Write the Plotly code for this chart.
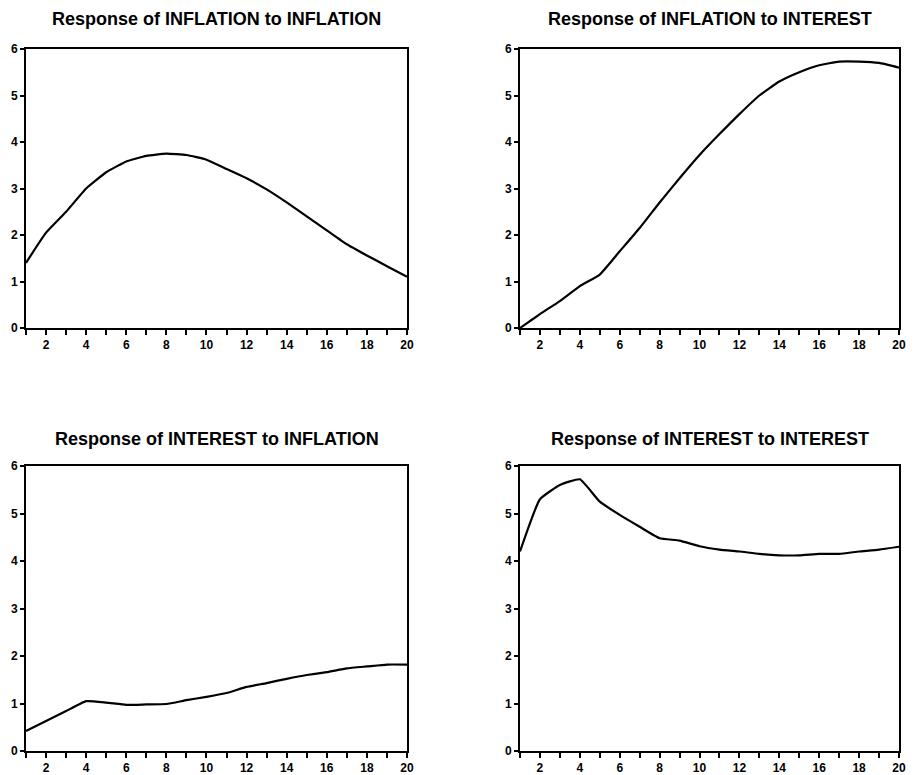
import plotly.graph_objects as go

periods = list(range(1, 21))

inflation_to_inflation = [1.40, 2.05, 2.50, 3.00, 3.35, 3.58, 3.70, 3.75, 3.72, 3.62,
                          3.42, 3.22, 2.98, 2.70, 2.40, 2.10, 1.80, 1.56, 1.33, 1.10]
inflation_to_interest = [0.00, 0.30, 0.58, 0.90, 1.15, 1.65, 2.15, 2.70, 3.22, 3.72,
                         4.17, 4.60, 5.00, 5.30, 5.50, 5.65, 5.73, 5.73, 5.70, 5.60]
interest_to_inflation = [0.42, 0.63, 0.84, 1.05, 1.02, 0.97, 0.98, 0.99, 1.07, 1.14,
                         1.22, 1.35, 1.43, 1.52, 1.60, 1.66, 1.74, 1.78, 1.82, 1.82]
interest_to_interest = [4.20, 5.30, 5.60, 5.72, 5.25, 4.97, 4.72, 4.48, 4.43, 4.31,
                        4.24, 4.20, 4.15, 4.12, 4.12, 4.15, 4.15, 4.20, 4.24, 4.30]

titles = ["Response of INFLATION to INFLATION", "Response of INFLATION to INTEREST",
          "Response of INTEREST to INFLATION", "Response of INTEREST to INTEREST"]
series = [inflation_to_inflation, inflation_to_interest, interest_to_inflation, interest_to_interest]

x_tickvals = periods
x_ticktext = [str(p) if p % 2 == 0 else "" for p in periods]
y_tickvals = [0, 1, 2, 3, 4, 5, 6]

# page body has an 8px margin; figure is placed at (8, 8)
OFF = 8
W, H = 915 - OFF, 775 - OFF


def px_x(v):
    return (v - OFF) / W


def px_y(v):
    return (H - (v - OFF)) / H


xdoms = [[px_x(26), px_x(407)], [px_x(520), px_x(899)]]
ydoms = [[px_y(328), px_y(49)], [px_y(751), px_y(466)]]
title_y = [px_y(19), px_y(439)]

fig = go.Figure()

layout = dict(
    width=W, height=H,
    margin=dict(l=0, r=0, t=0, b=0, autoexpand=False),
    paper_bgcolor="white", plot_bgcolor="white",
    showlegend=False,
    font=dict(family="Liberation Sans, Arial, sans-serif", color="black"),
)
tickfont = dict(family="Liberation Sans, Arial", size=12, color="black", weight="bold")
annotations = []
for i in range(4):
    r, c = divmod(i, 2)
    idx = "" if i == 0 else str(i + 1)
    fig.add_trace(go.Scatter(x=periods, y=series[i], mode="lines",
                             line=dict(color="black", width=2.2, shape="spline", smoothing=0.4),
                             xaxis="x" + idx, yaxis="y" + idx, hoverinfo="skip"))
    layout["xaxis" + idx] = dict(
        domain=xdoms[c], anchor="y" + idx, range=[1, 20], automargin=False,
        tickmode="array", tickvals=x_tickvals, ticktext=x_ticktext,
        ticks="outside", ticklen=5, tickwidth=1.5, tickcolor="black",
        showline=True, linecolor="black", linewidth=2, mirror=True,
        showgrid=False, zeroline=False, tickfont=tickfont,
    )
    layout["yaxis" + idx] = dict(
        domain=ydoms[r], anchor="x" + idx, range=[0, 6], automargin=False,
        tickmode="array", tickvals=y_tickvals,
        ticks="outside", ticklen=4, tickwidth=1.5, tickcolor="black",
        showline=True, linecolor="black", linewidth=2, mirror=True,
        showgrid=False, zeroline=False, tickfont=tickfont,
    )
    annotations.append(dict(
        text=titles[i], xref="paper", yref="paper",
        x=(xdoms[c][0] + xdoms[c][1]) / 2, y=title_y[r],
        xanchor="center", yanchor="middle", showarrow=False,
        font=dict(family="Liberation Sans, Arial", size=18, color="black", weight="bold"),
    ))
layout["annotations"] = annotations
fig.update_layout(**layout)
fig.write_html("out.html")
